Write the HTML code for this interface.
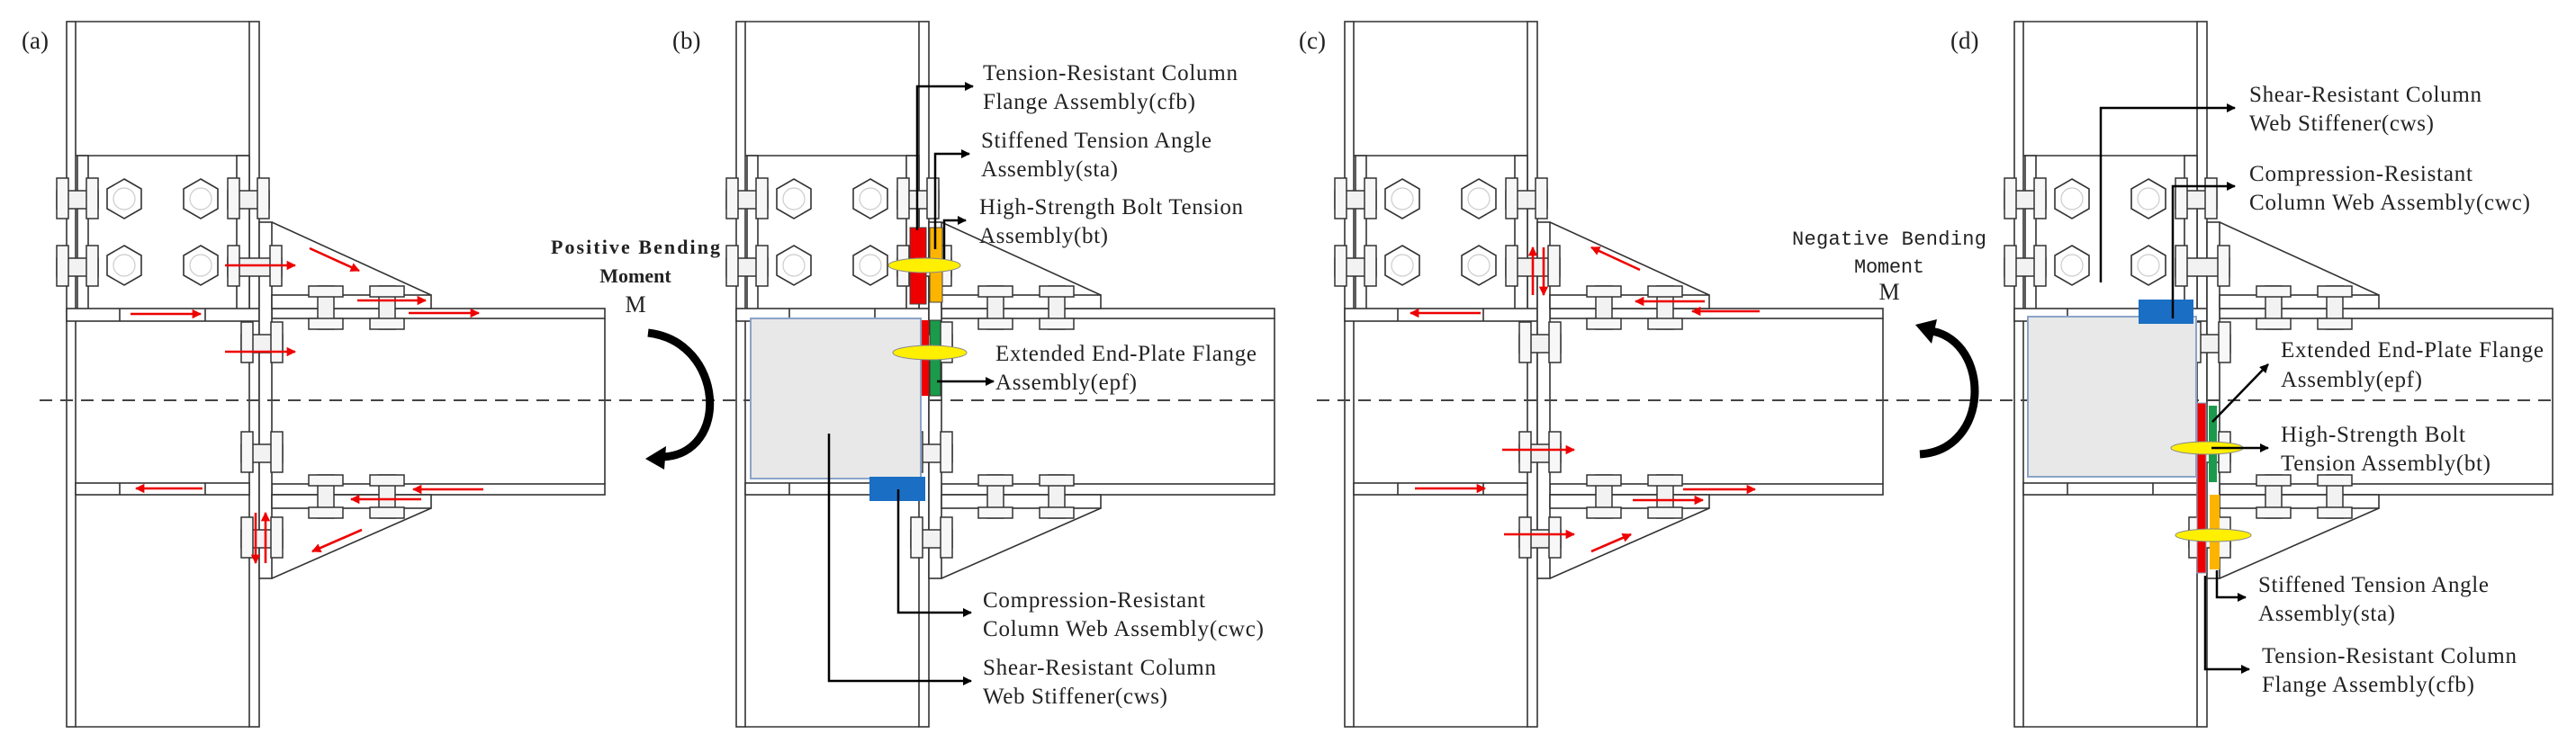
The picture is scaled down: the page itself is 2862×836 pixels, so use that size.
<!DOCTYPE html>
<html><head><meta charset="utf-8"><style>
html,body{margin:0;padding:0;background:#fff}
svg{display:block}
text{font-family:"Liberation Serif",serif;fill:#222}
</style></head><body>
<svg width="2862" height="836" viewBox="0 0 2862 836" xmlns="http://www.w3.org/2000/svg">
<defs>
<marker id="ra" viewBox="0 0 10 10" refX="9" refY="5" markerWidth="4" markerHeight="4" orient="auto"><path d="M0,0L10,5L0,10z" fill="#e00"/></marker>
<marker id="ka" viewBox="0 0 10 10" refX="9" refY="5" markerWidth="4.5" markerHeight="4" orient="auto"><path d="M0,0L10,5L0,10z" fill="#000"/></marker>
<g id="hb"><!-- horizontal-axis bolt 46x45 -->
<rect x="0" y="14" width="46" height="20" fill="#f2f2f2" stroke="#333" stroke-width="1.5"/>
<rect x="0" y="0" width="13" height="45" fill="#f7f7f7" stroke="#333" stroke-width="1.5"/>
<rect x="33" y="0" width="13" height="45" fill="#f7f7f7" stroke="#333" stroke-width="1.5"/>
</g>
<g id="hbw"><!-- wide bolt 60x45 -->
<rect x="0" y="14" width="60" height="20" fill="#f2f2f2" stroke="#333" stroke-width="1.5"/>
<rect x="0" y="0" width="13" height="45" fill="#f7f7f7" stroke="#333" stroke-width="1.5"/>
<rect x="47" y="0" width="13" height="45" fill="#f7f7f7" stroke="#333" stroke-width="1.5"/>
</g>
<g id="vb"><!-- vertical-axis bolt 38x48 -->
<rect x="10" y="0" width="18" height="48" fill="#f2f2f2" stroke="#333" stroke-width="1.5"/>
<rect x="0" y="0" width="38" height="12" fill="#f7f7f7" stroke="#333" stroke-width="1.5"/>
<rect x="0" y="36" width="38" height="12" fill="#f7f7f7" stroke="#333" stroke-width="1.5"/>
</g>
<g id="hex">
<polygon points="0,-22 19,-11 19,11 0,22 -19,11 -19,-11" fill="#fff" stroke="#333" stroke-width="1.6"/>
<circle r="12" fill="none" stroke="#ccc" stroke-width="1.2"/>
</g>
<g id="base" fill="#fff" stroke="#333" stroke-width="1.6">
<!-- column -->
<rect x="74" y="24" width="10" height="784"/>
<rect x="277" y="24" width="11" height="784"/>
<line x1="84" y1="24" x2="277" y2="24"/>
<line x1="84" y1="808" x2="277" y2="808"/>
<line x1="84" y1="173" x2="277" y2="173"/>
<rect x="86" y="173" width="12" height="171"/>
<rect x="263" y="173" width="14" height="171"/>
<!-- continuity plates -->
<rect x="74" y="343" width="214" height="14"/>
<line x1="133" y1="343" x2="133" y2="357"/><line x1="228" y1="343" x2="228" y2="357"/>
<rect x="84" y="537" width="193" height="13"/>
<line x1="133" y1="537" x2="133" y2="550"/><line x1="228" y1="537" x2="228" y2="550"/>
<!-- beam -->
<rect x="302" y="343" width="370" height="11"/>
<rect x="302" y="538" width="370" height="12"/>
<line x1="672" y1="354" x2="672" y2="538"/>
<!-- end plate -->
<rect x="288" y="247" width="14" height="396"/>
<!-- angles -->
<rect x="302" y="328" width="177" height="15"/>
<line x1="302" y1="247" x2="479" y2="328"/>
<rect x="302" y="550" width="177" height="15"/>
<line x1="302" y1="643" x2="479" y2="565"/>
<!-- hexes -->
<use href="#hex" x="138" y="221"/><use href="#hex" x="223" y="221"/>
<use href="#hex" x="138" y="295"/><use href="#hex" x="223" y="295"/>
<!-- bolts -->
<use href="#hb" x="63" y="198"/><use href="#hb" x="63" y="273"/>
<use href="#hb" x="253" y="198"/><use href="#hbw" x="253" y="273"/>
<use href="#hb" x="268" y="358"/><use href="#hb" x="268" y="480"/>
<use href="#hb" x="268" y="575"/>
<use href="#vb" x="343" y="318"/><use href="#vb" x="411" y="318"/>
<use href="#vb" x="343" y="528"/><use href="#vb" x="411" y="528"/>
</g>
</defs>

<use href="#base"/>
<use href="#base" x="744"/>
<use href="#base" x="1420"/>
<use href="#base" x="2164"/>

<!-- dashed center line -->
<line x1="44" y1="445" x2="1420" y2="445" stroke="#444" stroke-width="2" stroke-dasharray="14 9"/>
<line x1="1463" y1="445" x2="2843" y2="445" stroke="#444" stroke-width="2" stroke-dasharray="14 9"/>

<!-- labels -->
<text x="24" y="54" font-size="27">(a)</text>
<text x="747" y="54" font-size="27">(b)</text>
<text x="1443" y="54" font-size="27">(c)</text>
<text x="2167" y="54" font-size="27">(d)</text>

<!-- panel a red arrows -->
<g stroke="#e00" stroke-width="2.6" fill="none" marker-end="url(#ra)">
<line x1="250" y1="295" x2="328" y2="295"/>
<line x1="344" y1="276" x2="399" y2="301"/>
<line x1="397" y1="334" x2="473" y2="334"/>
<line x1="454" y1="348" x2="532" y2="348"/>
<line x1="145" y1="349" x2="223" y2="349"/>
<line x1="250" y1="391" x2="328" y2="391"/>
<line x1="225" y1="543" x2="151" y2="543"/>
<line x1="537" y1="544" x2="459" y2="544"/>
<line x1="468" y1="555" x2="390" y2="555"/>
<line x1="402" y1="589" x2="347" y2="613"/>
<line x1="284" y1="570" x2="284" y2="626"/>
<line x1="295" y1="626" x2="295" y2="570"/>
</g>
<!-- panel c red arrows -->
<g stroke="#e00" stroke-width="2.6" fill="none" marker-end="url(#ra)">
<line x1="1822" y1="300" x2="1768" y2="275"/>
<line x1="1703" y1="328" x2="1703" y2="275"/>
<line x1="1715" y1="275" x2="1715" y2="328"/>
<line x1="1894" y1="335" x2="1817" y2="335"/>
<line x1="1955" y1="346" x2="1880" y2="346"/>
<line x1="1645" y1="348" x2="1567" y2="348"/>
<line x1="1669" y1="500" x2="1749" y2="500"/>
<line x1="1572" y1="543" x2="1650" y2="543"/>
<line x1="1870" y1="544" x2="1950" y2="544"/>
<line x1="1814" y1="556" x2="1892" y2="556"/>
<line x1="1671" y1="594" x2="1749" y2="594"/>
<line x1="1768" y1="613" x2="1812" y2="594"/>
</g>

<!-- positive moment -->
<text x="706" y="282" font-size="22" font-weight="bold" text-anchor="middle" textLength="188">Positive Bending</text>
<text x="706" y="314" font-size="22" font-weight="bold" text-anchor="middle">Moment</text>
<text x="706" y="347" font-size="26" text-anchor="middle">M</text>
<path d="M720,370 C805,380 812,505 736,508" fill="none" stroke="#000" stroke-width="9"/>
<path d="M717,510 L740,496 L738,522 Z" fill="#000"/>

<!-- negative moment -->
<text x="2099" y="272" font-size="22" font-family="Liberation Mono" text-anchor="middle" textLength="216" style="font-family:'Liberation Mono',monospace">Negative Bending</text>
<text x="2099" y="303" font-size="22" text-anchor="middle" textLength="78" style="font-family:'Liberation Mono',monospace">Moment</text>
<text x="2099" y="333" font-size="26" text-anchor="middle">M</text>
<path d="M2133,505 C2212,500 2212,380 2146,368" fill="none" stroke="#000" stroke-width="9"/>
<path d="M2128,361 L2152,355 L2146,382 Z" fill="#000"/>

<!-- panel b components -->
<rect x="834" y="354" width="189" height="178" fill="#e8e8e8" stroke="#8aa4c8" stroke-width="2"/>
<rect x="1011" y="253" width="18" height="85" fill="#e00" stroke="#444" stroke-width="1"/>
<rect x="1033" y="253" width="14" height="83" fill="#fdb400" stroke="#444" stroke-width="1"/>
<rect x="1024" y="356" width="8" height="84" fill="#e00"/>
<rect x="1033" y="356" width="12" height="84" fill="#1a9a4a" stroke="#333" stroke-width="1"/>
<ellipse cx="1027" cy="295" rx="40" ry="8" fill="#ffef00" stroke="#888" stroke-width="1"/>
<ellipse cx="1033" cy="392" rx="41" ry="8" fill="#ffef00" stroke="#888" stroke-width="1"/>
<rect x="966" y="530" width="62" height="27" fill="#1a6fc4"/>
<g stroke="#000" stroke-width="2.5" fill="none" marker-end="url(#ka)">
<polyline points="1019,256 1019,96 1081,96"/>
<polyline points="1039,277 1039,171 1077,171"/>
<polyline points="1049,288 1049,245 1073,245"/>
<polyline points="1041,424 1104,424"/>
<polyline points="998,544 998,681 1079,681"/>
<polyline points="921,482 921,757 1079,757"/>
</g>
<g font-size="25">
<text x="1092" y="89" textLength="283">Tension-Resistant Column</text>
<text x="1092" y="121" textLength="236">Flange Assembly(cfb)</text>
<text x="1090" y="164" textLength="256">Stiffened Tension Angle</text>
<text x="1090" y="196" textLength="152">Assembly(sta)</text>
<text x="1088" y="238" textLength="293">High-Strength Bolt Tension</text>
<text x="1088" y="270" textLength="143">Assembly(bt)</text>
<text x="1106" y="401" textLength="290">Extended End-Plate Flange</text>
<text x="1106" y="433" textLength="157">Assembly(epf)</text>
<text x="1092" y="675" textLength="247">Compression-Resistant</text>
<text x="1092" y="707" textLength="312">Column Web Assembly(cwc)</text>
<text x="1092" y="750" textLength="259">Shear-Resistant Column</text>
<text x="1092" y="782" textLength="205">Web Stiffener(cws)</text>
</g>

<!-- panel d components -->
<rect x="2253" y="352" width="187" height="178" fill="#e8e8e8" stroke="#8aa4c8" stroke-width="2"/>
<rect x="2376" y="333" width="61" height="27" fill="#1a6fc4"/>
<rect x="2441" y="448" width="10" height="189" fill="#e00" stroke="#8aa4c8" stroke-width="1"/>
<rect x="2454" y="451" width="9" height="85" fill="#1a9a4a"/>
<rect x="2455" y="550" width="11" height="83" fill="#fdb400"/>
<ellipse cx="2452" cy="498" rx="40" ry="7" fill="#ffef00" stroke="#888" stroke-width="1"/>
<ellipse cx="2459" cy="595" rx="42" ry="7" fill="#ffef00" stroke="#888" stroke-width="1"/>
<g stroke="#000" stroke-width="2.5" fill="none" marker-end="url(#ka)">
<polyline points="2334,314 2334,120 2483,120"/>
<polyline points="2414,354 2414,207 2483,207"/>
<polyline points="2458,469 2520,405"/>
<polyline points="2457,498 2520,498"/>
<polyline points="2463,634 2463,664 2495,664"/>
<polyline points="2450,640 2450,744 2499,744"/>
</g>
<g font-size="25">
<text x="2499" y="113" textLength="258">Shear-Resistant Column</text>
<text x="2499" y="145" textLength="205">Web Stiffener(cws)</text>
<text x="2499" y="201" textLength="248">Compression-Resistant</text>
<text x="2499" y="233" textLength="312">Column Web Assembly(cwc)</text>
<text x="2534" y="397" textLength="292">Extended End-Plate Flange</text>
<text x="2534" y="430" textLength="157">Assembly(epf)</text>
<text x="2534" y="491" textLength="205">High-Strength Bolt</text>
<text x="2534" y="523" textLength="233">Tension Assembly(bt)</text>
<text x="2509" y="658" textLength="256">Stiffened Tension Angle</text>
<text x="2509" y="690" textLength="152">Assembly(sta)</text>
<text x="2513" y="737" textLength="283">Tension-Resistant Column</text>
<text x="2513" y="769" textLength="236">Flange Assembly(cfb)</text>
</g>
</svg>
</body></html>
